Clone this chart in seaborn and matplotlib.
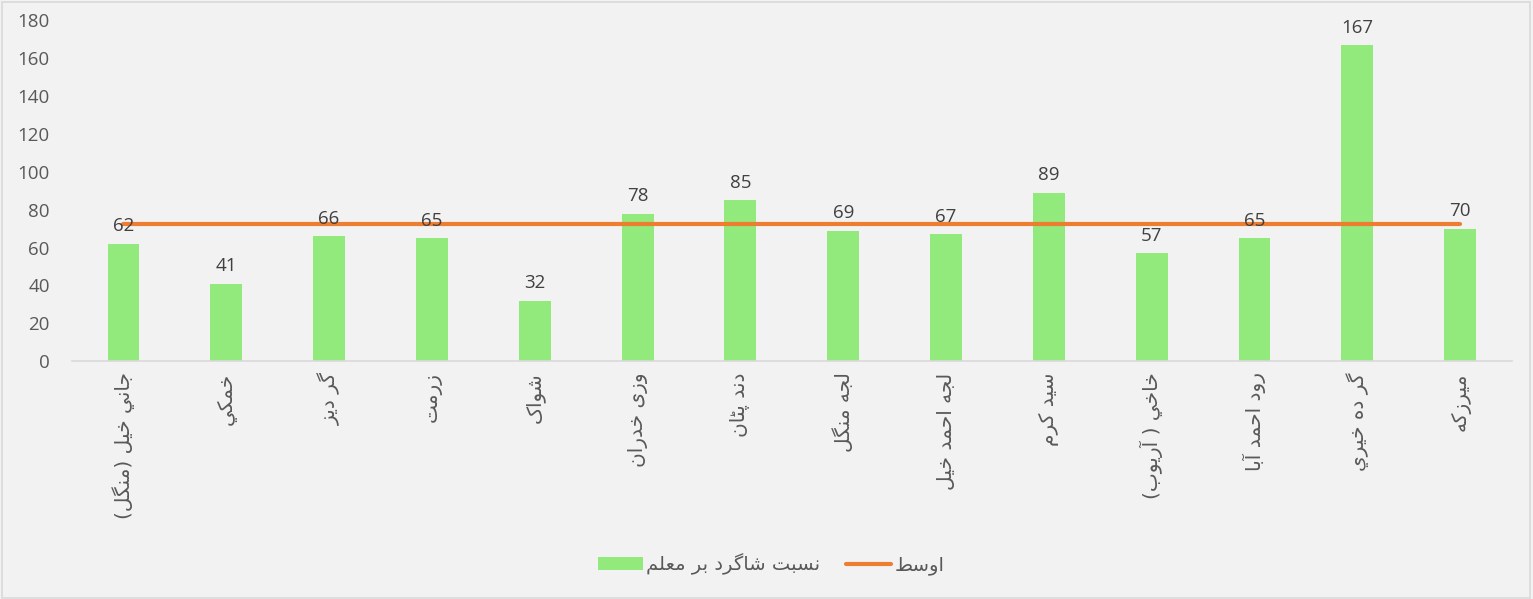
import matplotlib
matplotlib.use("Agg")
import matplotlib.pyplot as plt
import numpy as np
import seaborn as sns
from matplotlib.patches import Patch, Rectangle
from matplotlib.lines import Line2D

# data
districts = ["جاني خيل (منگل)", "خمکي", "گر ديز", "زرمت", "شواک", "وزی خدران",
             "دند پټان", "لجه منگل", "لجه احمد خيل", "سيد کرم", "خاخي ( آريوب)",
             "رود احمد آبا", "گر ده خيري", "ميرزکه"]
ratio_values = [62, 41, 66, 65, 32, 78, 85, 69, 67, 89, 57, 65, 167, 70]
avg_values = [72.4] * 14
bar_label = "نسبت شاگرد بر معلم"
line_label = "اوسط"

# tiny arabic shaper: matplotlib 3.10 has no bidi / joining support
FORMS = {
    "ا": "\ufe8d\ufe8e", "آ": "\ufe81\ufe82", "د": "\ufea9\ufeaa", "ذ": "\ufeab\ufeac",
    "ر": "\ufead\ufeae", "ز": "\ufeaf\ufeb0", "و": "\ufeed\ufeee",
    "ب": "\ufe8f\ufe90\ufe91\ufe92", "ت": "\ufe95\ufe96\ufe97\ufe98",
    "ج": "\ufe9d\ufe9e\ufe9f\ufea0", "ح": "\ufea1\ufea2\ufea3\ufea4",
    "خ": "\ufea5\ufea6\ufea7\ufea8", "س": "\ufeb1\ufeb2\ufeb3\ufeb4",
    "ش": "\ufeb5\ufeb6\ufeb7\ufeb8", "ط": "\ufec1\ufec2\ufec3\ufec4",
    "ع": "\ufec9\ufeca\ufecb\ufecc", "ل": "\ufedd\ufede\ufedf\ufee0",
    "م": "\ufee1\ufee2\ufee3\ufee4", "ن": "\ufee5\ufee6\ufee7\ufee8",
    "ه": "\ufee9\ufeea\ufeeb\ufeec", "ي": "\ufef1\ufef2\ufef3\ufef4",
    "پ": "\ufb56\ufb57\ufb58\ufb59", "ک": "\ufb8e\ufb8f\ufb90\ufb91",
    "گ": "\ufb92\ufb93\ufb94\ufb95", "ی": "\ufbfc\ufbfd\ufbfe\ufbff",
    "ټ": "\ufb66\ufb67\ufb68\ufb69",
}


def shape(text):
    out = []
    for i, c in enumerate(text):
        if c not in FORMS:
            out.append(c)
            continue
        f = FORMS[c]
        prev = text[i - 1] if i > 0 else ""
        nxt = text[i + 1] if i + 1 < len(text) else ""
        jp = prev in FORMS and len(FORMS[prev]) == 4
        jn = len(f) == 4 and nxt in FORMS
        if jp and jn:
            out.append(f[3])
        elif jp:
            out.append(f[1])
        elif jn:
            out.append(f[2])
        else:
            out.append(f[0])
    vis = "".join(reversed(out))
    return vis.translate(str.maketrans("()", ")("))


sns.set_style("white")
plt.rcParams["font.family"] = ["Open Sans", "DejaVu Sans"]

bg = "#F2F2F2"
green = "#92EA7C"
orange = "#ED7D31"
tick_col = "#595959"

fig = plt.figure(figsize=(15.33, 5.99), dpi=100, facecolor=bg)
ax = fig.add_axes([0.047, 0.397, 0.939, 0.569])
ax.set_facecolor(bg)

labels = [shape(d) for d in districts]
pos = np.arange(len(labels))

sns.barplot(x=pos, y=ratio_values, color=green, width=0.31, saturation=1,
            native_scale=True, linewidth=0, ax=ax)
sns.lineplot(x=pos, y=avg_values, color=orange, linewidth=3, ax=ax)

for p, v in zip(pos, ratio_values):
    ax.annotate(str(v), (p, v), xytext=(0, 6), textcoords="offset points",
                ha="center", va="bottom", fontsize=13.5, color="#404040")

ax.set_xlim(-0.5, len(labels) - 0.5)
ax.set_ylim(0, 180)
ax.set_yticks(range(0, 181, 20))
ax.set_xticks(pos)
ax.set_xticklabels(labels, rotation=90, fontsize=14.5, color=tick_col, family="DejaVu Sans")
ax.tick_params(axis="y", labelsize=13.5, labelcolor=tick_col, length=0, pad=16)
ax.tick_params(axis="x", length=0, pad=8)
for s in ["top", "right", "left"]:
    ax.spines[s].set_visible(False)
ax.spines["bottom"].set_color("#D9D9D9")
ax.spines["bottom"].set_linewidth(1.2)
ax.set_xlabel("")
ax.set_ylabel("")

handles = [Patch(facecolor=green, edgecolor="none"),
           Line2D([0], [0], color=orange, linewidth=3)]
leg = fig.legend(handles, [shape(bar_label), shape(line_label)], loc="center",
                 bbox_to_anchor=(0.503, 0.058), ncol=2, frameon=False,
                 fontsize=14, handlelength=2.3, handletextpad=0.2,
                 columnspacing=1.3)
for t in leg.get_texts():
    t.set_color(tick_col)
    t.set_family("DejaVu Sans")

fig.patches.append(Rectangle((0.001, 0.002), 0.997, 0.995, transform=fig.transFigure,
                             fill=False, edgecolor="#D9D9D9", linewidth=1.2))

fig.savefig("out.png", dpi=100, facecolor=bg)
